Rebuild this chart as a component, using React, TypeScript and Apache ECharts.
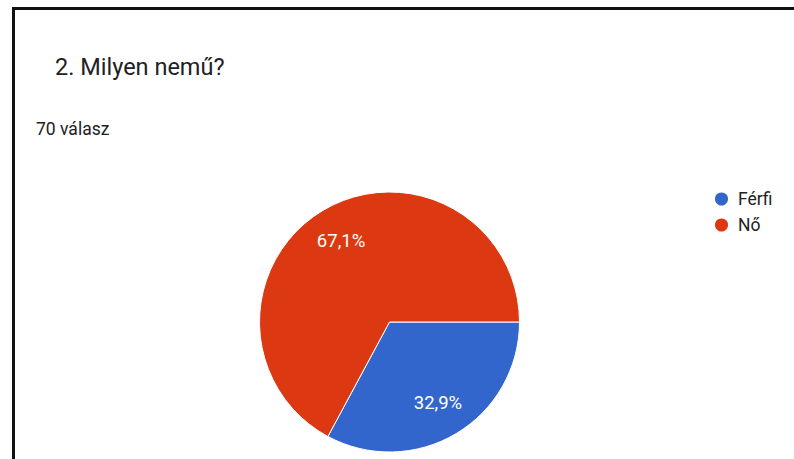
import React, { useEffect, useRef } from "react";
import * as echarts from "echarts";

const titleText = "2. Milyen nemű?";
const subtitleText = "70 válasz";
const categories = ["Férfi", "Nő"];
const counts = [23, 47];
const colors = ["#3366CC", "#DC3912"];

export default function App() {
  const ref = useRef<HTMLDivElement>(null);
  useEffect(() => {
    document.body.style.margin = "0";
    const chart = echarts.init(ref.current!, null, { renderer: "svg" });
    const data = categories.map((name, i) => ({ name, value: counts[i] }));
    const fmt = (p: any) => p.percent.toFixed(1).replace(".", ",") + "%";
    chart.setOption({
      animation: false,
      backgroundColor: "#ffffff",
      color: colors,
      textStyle: { fontFamily: "Roboto" },
      legend: {
        orient: "vertical",
        left: 713,
        top: 190,
        padding: 0,
        icon: "circle",
        itemWidth: 15,
        itemHeight: 15,
        itemGap: 8,
        data: categories,
        textStyle: { fontSize: 17.5, color: "#222222", fontFamily: "Roboto", padding: [0, 0, 0, 4] },
        selectedMode: false,
      },
      graphic: [
        { type: "rect", shape: { x: 12, y: 7, width: 782, height: 3 }, style: { fill: "#111111" }, silent: true },
        { type: "rect", shape: { x: 12, y: 7, width: 3, height: 452 }, style: { fill: "#111111" }, silent: true },
        {
          type: "text",
          x: 55,
          y: 67,
          style: { text: titleText, fontSize: 23.5, fontFamily: "Roboto", fill: "#202124", verticalAlign: "middle" },
        },
        {
          type: "text",
          x: 36,
          y: 129,
          style: { text: subtitleText, fontSize: 17.5, fontFamily: "Roboto", fill: "#202124", verticalAlign: "middle" },
        },
      ],
      series: [
        {
          type: "pie",
          center: [389.5, 322],
          radius: [0, 130],
          startAngle: 0,
          clockwise: true,
          data,
          label: { show: false },
          labelLine: { show: false },
          itemStyle: { borderColor: "#ffffff", borderWidth: 1 },
          silent: true,
        },
        {
          type: "pie",
          center: [389.5, 322],
          radius: [53, 130],
          startAngle: 0,
          clockwise: true,
          data,
          silent: true,
          itemStyle: { color: "rgba(0,0,0,0)", borderWidth: 0 },
          label: {
            show: true,
            position: "inside",
            formatter: fmt,
            color: "#ffffff",
            fontSize: 18.5,
            fontFamily: "Roboto",
          },
          labelLine: { show: false },
        },
      ],
    });
    return () => chart.dispose();
  }, []);
  return <div ref={ref} style={{ position: "absolute", left: 0, top: 0, width: 794, height: 459 }} />;
}
